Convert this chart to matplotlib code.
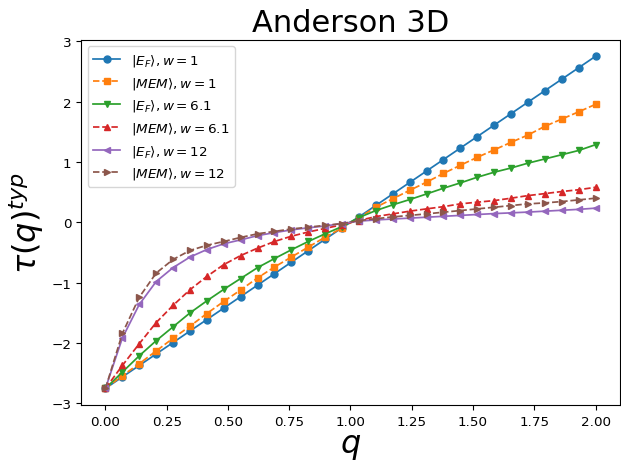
import matplotlib
matplotlib.use('Agg')
import matplotlib.pyplot as plt
import numpy as np

# q grid: 30 points from 0 to 2
q = np.linspace(0, 2, 30)

# tau(q)^typ
ef_w1 = [-2.75, -2.56, -2.37, -2.18, -1.99, -1.80, -1.61, -1.42, -1.23, -1.04,
         -0.85, -0.66, -0.47, -0.28, -0.09, 0.09, 0.28, 0.47, 0.66, 0.85,
         1.04, 1.23, 1.42, 1.61, 1.80, 1.99, 2.18, 2.37, 2.56, 2.75]
mem_w1 = [-2.75, -2.54, -2.34, -2.13, -1.92, -1.72, -1.51, -1.31, -1.12, -0.92,
          -0.74, -0.575, -0.41, -0.245, -0.095, 0.08, 0.25, 0.39, 0.53, 0.665,
          0.81, 0.945, 1.077, 1.20, 1.325, 1.446, 1.59, 1.71, 1.83, 1.954]
ef_w61 = [-2.75, -2.48, -2.21, -1.96, -1.73, -1.50, -1.30, -1.11, -0.93, -0.75,
          -0.60, -0.455, -0.317, -0.19, -0.07, 0.08, 0.195, 0.29, 0.377, 0.47,
          0.565, 0.653, 0.747, 0.83, 0.90, 0.98, 1.05, 1.12, 1.19, 1.286]
mem_w61 = [-2.75, -2.37, -2.01, -1.66, -1.375, -1.116, -0.896, -0.70, -0.55, -0.427,
           -0.317, -0.23, -0.16, -0.10, -0.04, 0.03, 0.096, 0.14, 0.185, 0.223,
           0.26, 0.306, 0.334, 0.36, 0.40, 0.443, 0.476, 0.51, 0.54, 0.58]
ef_w12 = [-2.75, -1.915, -1.36, -0.98, -0.75, -0.575, -0.45, -0.355, -0.29, -0.22,
          -0.17, -0.125, -0.09, -0.06, -0.02, 0.02, 0.04, 0.055, 0.07, 0.085,
          0.10, 0.115, 0.13, 0.145, 0.157, 0.17, 0.185, 0.20, 0.215, 0.235]
mem_w12 = [-2.75, -1.84, -1.24, -0.84, -0.615, -0.466, -0.38, -0.317, -0.25, -0.19,
           -0.15, -0.11, -0.08, -0.05, -0.02, 0.03, 0.06, 0.09, 0.115, 0.14,
           0.168, 0.195, 0.223, 0.25, 0.278, 0.306, 0.322, 0.344, 0.372, 0.40]

labels = [r'$|E_F\rangle, w=1$', r'$|MEM\rangle, w=1$',
          r'$|E_F\rangle, w=6.1$', r'$|MEM\rangle, w=6.1$',
          r'$|E_F\rangle, w=12$', r'$|MEM\rangle, w=12$']

fig = plt.figure(figsize=(6.21, 4.64), dpi=100)
ax = fig.add_axes([0.1304, 0.125, 0.868, 0.7873])

lw = 1.25
ms = 5
ax.plot(q, ef_w1, marker='o', linestyle='-', lw=lw, ms=ms, label=labels[0])
ax.plot(q, mem_w1, marker='s', linestyle='--', lw=lw, ms=ms, label=labels[1])
ax.plot(q, ef_w61, marker='v', linestyle='-', lw=lw, ms=ms, label=labels[2])
ax.plot(q, mem_w61, marker='^', linestyle='--', lw=lw, ms=ms, label=labels[3])
ax.plot(q, ef_w12, marker='<', linestyle='-', lw=lw, ms=ms, label=labels[4])
ax.plot(q, mem_w12, marker='>', linestyle='--', lw=lw, ms=ms, label=labels[5])

ax.set_title('Anderson 3D', fontsize=22)
ax.set_xlabel(r'$q$', fontsize=23, labelpad=2)
ax.set_ylabel(r'$\tau(q)^{typ}$', fontsize=23)
ax.tick_params(labelsize=9.7, length=3.4)
ax.set_xticks([0, 0.25, 0.5, 0.75, 1.0, 1.25, 1.5, 1.75, 2.0])
ax.legend(loc='upper left', fontsize=9.7)

plt.savefig('out.png', dpi=100)
